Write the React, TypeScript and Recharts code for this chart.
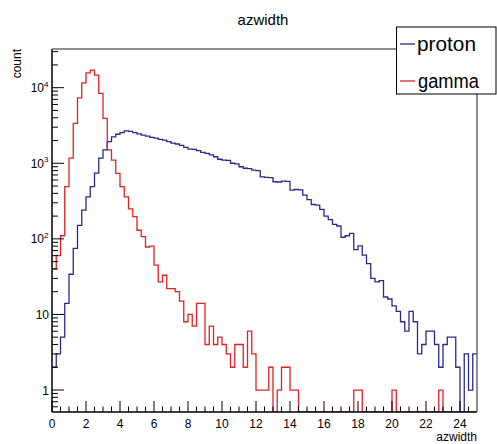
import React from 'react';
import { ComposedChart, Line, XAxis, YAxis } from 'recharts';

// ---- data -------------------------------------------------------------
const BIN_WIDTH = 0.25;
const X_MIN = 0;
const X_MAX = 25;
const Y_MIN = 0.512;
const Y_MAX = 32500;

// counts per bin (100 bins of width 0.25 from 0 to 25)
const protonCounts = [
  2, 3, 5, 14, 34, 75, 151, 240, 360, 490,
  740, 1170, 1500, 1930, 2240, 2420, 2550, 2690, 2650, 2540,
  2450, 2360, 2280, 2200, 2150, 2070, 2030, 1930, 1850, 1800,
  1720, 1620, 1540, 1530, 1470, 1390, 1350, 1290, 1220, 1130,
  1100, 1090, 1000, 980, 900, 860, 850, 810, 800, 660,
  650, 645, 570, 565, 580, 575, 440, 450, 445, 380,
  330, 285, 280, 245, 200, 180, 155, 148, 105, 110,
  118, 72, 81, 61, 47, 30, 27, 28, 17, 16,
  13, 11, 8, 6, 11, 8, 3, 4, 6, 6,
  4, 2, 4, 5, 5, 2, 0, 3, 1, 3,
];

const gammaCounts = [
  40, 60, 110, 490, 1170, 3380, 7340, 11600, 15700, 17100,
  14700, 8400, 3930, 1500, 1100, 735, 490, 360, 250, 197,
  130, 107, 78, 80, 45, 27, 33, 22, 22, 20,
  15, 8, 10, 7, 14, 14, 4, 7, 4, 5,
  4, 3, 2, 4, 4, 2, 6, 3, 1, 1,
  1, 2, 0, 1, 2, 2, 1, 1, 0, 0,
  0, 0, 0, 0, 0, 0, 0, 0, 0, 0,
  0, 1, 1, 0, 0, 0, 0, 0, 0, 0,
  1, 0, 0, 0, 0, 0, 0, 0, 0, 0,
  0, 1, 0, 0, 0, 0, 0, 0, 0, 0,
];

const xMajorTicks = [0, 2, 4, 6, 8, 10, 12, 14, 16, 18, 20, 22, 24];
const xTicks = Array.from({ length: 50 }, (_, i) => i * 0.5);

const yMajorTicks = [1, 10, 100, 1000, 10000];
const yMajorLabels = [
  { base: '1', exp: '' },
  { base: '10', exp: '' },
  { base: '10', exp: '2' },
  { base: '10', exp: '3' },
  { base: '10', exp: '4' },
];
const yMinorMultipliers = [2, 3, 4, 5, 6, 7, 8, 9];
const yTicks = [
  0.6, 0.7, 0.8, 0.9,
  ...[1, 10, 100, 1000, 10000].flatMap((d) => [d, ...yMinorMultipliers.map((m) => m * d)]),
].filter((v) => v <= Y_MAX);

const TITLE = 'azwidth';
const X_TITLE = 'azwidth';
const Y_TITLE = 'count';
const SERIES = [
  { key: 'proton', name: 'proton', color: '#2a2a88' },
  { key: 'gamma', name: 'gamma', color: '#e02222' },
];

// build the step-histogram table (bin low edges + closing edge)
const data = protonCounts.map((p, i) => ({
  x: X_MIN + i * BIN_WIDTH,
  proton: Math.max(p, Y_MIN),
  gamma: Math.max(gammaCounts[i], Y_MIN),
}));
data.push({
  x: X_MAX,
  proton: Math.max(protonCounts[protonCounts.length - 1], Y_MIN),
  gamma: Math.max(gammaCounts[gammaCounts.length - 1], Y_MIN),
});

// ---- layout -----------------------------------------------------------
const W = 497;
const H = 444;
const FONT = '"Liberation Sans", Arial, Helvetica, sans-serif';
const MARGIN = { top: 49, right: 20, bottom: 0, left: 0 };
const Y_AXIS_W = 52;
const X_AXIS_H = 32;
const PLOT_L = MARGIN.left + Y_AXIS_W;
const PLOT_T = MARGIN.top;
const PLOT_R = W - MARGIN.right;
const PLOT_B = H - MARGIN.bottom - X_AXIS_H;

const XTick = (props: any) => {
  const { x, y, payload } = props;
  const v = payload.value;
  const major = xMajorTicks.includes(v);
  return (
    <g>
      <line x1={x} x2={x} y1={y} y2={y - (major ? 11 : 5.5)} stroke="#000" strokeWidth={1} />
      {major && (
        <text x={x} y={y + 16} textAnchor="middle" fontSize={12} fontFamily={FONT} fill="#000">
          {v}
        </text>
      )}
    </g>
  );
};

const YTick = (props: any) => {
  const { x, y, payload } = props;
  const v = payload.value;
  const idx = yMajorTicks.indexOf(v);
  const major = idx >= 0;
  const lab = major ? yMajorLabels[idx] : null;
  return (
    <g>
      <line x1={x} x2={x + (major ? 12 : 6)} y1={y} y2={y} stroke="#000" strokeWidth={1} />
      {lab && (
        <text
          x={x - 3 - (lab.exp ? 5 : 0)}
          y={y + 4.5}
          textAnchor="end"
          fontSize={12}
          fontFamily={FONT}
          fill="#000"
        >
          {lab.base}
        </text>
      )}
      {lab && lab.exp && (
        <text x={x - 8} y={y - 1} textAnchor="start" fontSize={8} fontFamily={FONT} fill="#000">
          {lab.exp}
        </text>
      )}
    </g>
  );
};

export default function App() {
  return (
    <div style={{ position: 'absolute', left: 0, top: 0, width: W, height: H, background: '#fff' }}>
      <ComposedChart width={W} height={H} data={data} margin={MARGIN}>
        <XAxis
          dataKey="x"
          type="number"
          domain={[X_MIN, X_MAX]}
          ticks={xTicks}
          interval={0}
          tickSize={0}
          tickMargin={0}
          tickLine={false}
          tick={<XTick />}
          height={X_AXIS_H}
          axisLine={{ stroke: '#000', strokeWidth: 1.5 }}
          allowDataOverflow
        />
        <YAxis
          type="number"
          scale="log"
          domain={[Y_MIN, Y_MAX]}
          ticks={yTicks}
          interval={0}
          tickSize={0}
          tickMargin={0}
          tickLine={false}
          tick={<YTick />}
          width={Y_AXIS_W}
          axisLine={{ stroke: '#000', strokeWidth: 1.5 }}
          allowDataOverflow
        />
        {SERIES.map((s) => (
          <Line
            key={s.key}
            dataKey={s.key}
            name={s.name}
            type="stepAfter"
            stroke={s.color}
            strokeWidth={1.3}
            dot={false}
            activeDot={false}
            isAnimationActive={false}
          />
        ))}
      </ComposedChart>
      <svg
        width={W}
        height={H}
        style={{ position: 'absolute', left: 0, top: 0, pointerEvents: 'none' }}
        fontFamily={FONT}
      >
        {/* frame top and right */}
        <line x1={PLOT_L} x2={PLOT_R} y1={PLOT_T} y2={PLOT_T} stroke="#6a6a6a" strokeWidth={1.5} />
        <line x1={PLOT_R} x2={PLOT_R} y1={PLOT_T} y2={PLOT_B} stroke="#6a6a6a" strokeWidth={1.5} />
        {/* title */}
        <text x={263} y={25} textAnchor="middle" fontSize={15} fill="#000">
          {TITLE}
        </text>
        {/* axis titles */}
        <text x={PLOT_R} y={441} textAnchor="end" fontSize={12} fill="#000">
          {X_TITLE}
        </text>
        <text
          transform={`translate(21, ${PLOT_T}) rotate(-90)`}
          textAnchor="end"
          fontSize={12}
          fill="#000"
        >
          {Y_TITLE}
        </text>
        {/* legend */}
        <rect x={396.5} y={27} width={99.5} height={67} fill="#fff" stroke="#000" strokeWidth={1} />
        <line x1={400} x2={415} y1={44} y2={44} stroke={SERIES[0].color} strokeWidth={1.3} />
        <text x={417} y={51} fontSize={20} fill="#000" textLength={59} lengthAdjust="spacingAndGlyphs">
          {SERIES[0].name}
        </text>
        <line x1={400} x2={415} y1={81} y2={81} stroke={SERIES[1].color} strokeWidth={1.3} />
        <text x={418} y={88} fontSize={20} fill="#000" textLength={61} lengthAdjust="spacingAndGlyphs">
          {SERIES[1].name}
        </text>
      </svg>
    </div>
  );
}
